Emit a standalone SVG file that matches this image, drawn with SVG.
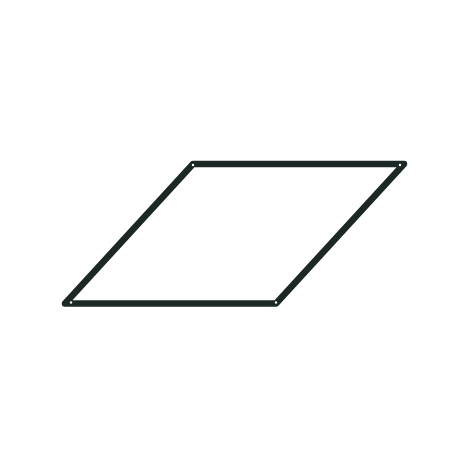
<svg xmlns="http://www.w3.org/2000/svg" width="470" height="470" viewBox="0 0 470 470">
<style>.frame{fill:none;stroke:#1c2825;stroke-width:6.5;stroke-linejoin:round}.hole{fill:#ffffff}</style>
<rect width="470" height="470" fill="#ffffff"/>
<g id="frame">
<polygon class="frame" points="193,164 404,164 276,303.5 65,303.5"/>
<circle class="hole" cx="193" cy="165" r="1.2"/>
<circle class="hole" cx="400" cy="165" r="1.2"/>
<circle class="hole" cx="71" cy="302.5" r="1.2"/>
<circle class="hole" cx="276" cy="302.5" r="1.2"/>
</g>
</svg>
